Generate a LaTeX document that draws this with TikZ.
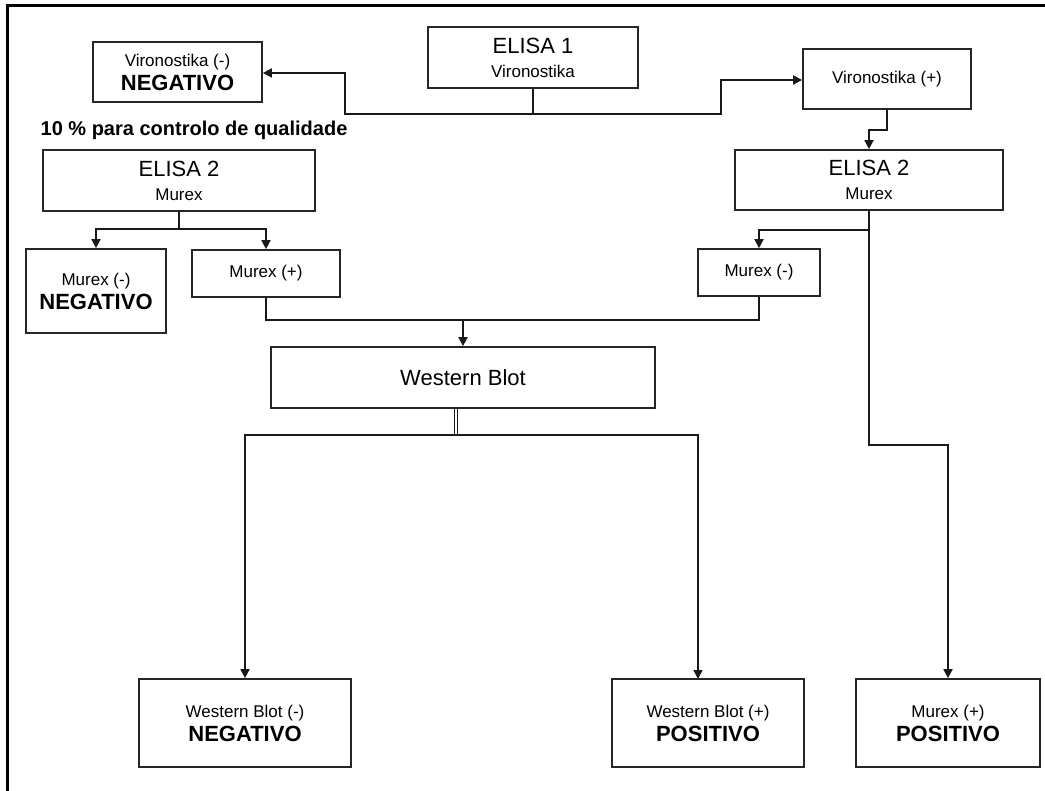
\documentclass[tikz,border=0pt]{standalone}
\usepackage{fontspec}
\setmainfont{Liberation Sans}
\usetikzlibrary{arrows.meta}
\tikzset{
  box/.style={draw=black!85, line width=1.7pt, rectangle, inner sep=0pt, align=center,
    font=\fontsize{17}{24}\selectfont},
  conn/.style={draw=black!90, line width=1.7pt},
  arr/.style={conn, -{Triangle[length=9pt,width=9pt]}},
}
\newcommand{\bigtxt}[1]{{\fontsize{22}{24}\selectfont #1}}
\newcommand{\bigbold}[1]{{\fontsize{22}{24}\selectfont\bfseries #1}}
\begin{document}
\begin{tikzpicture}[x=1pt,y=-1pt]
\useasboundingbox (0,0) rectangle (1045,791);
\draw[line width=3pt, black] (7,791) -- (7,6) -- (1045,6);

% nodes
\node[box, minimum width=169pt, minimum height=60pt] (vneg) at (177.5,72) {Vironostika (-)\\\bigbold{NEGATIVO}};
\node[box, minimum width=210pt, minimum height=61pt] (elisa1) at (533,57.5) {\bigtxt{ELISA 1}\\Vironostika};
\node[box, minimum width=168pt, minimum height=60pt] (vpos) at (887,79) {Vironostika (+)};
\node[font=\fontsize{20}{24}\selectfont\bfseries, inner sep=0pt] (qual) at (194,130) {10 \% para controlo de qualidade};
\node[box, minimum width=272pt, minimum height=61pt] (e2l) at (179,180.5) {\bigtxt{ELISA 2}\\Murex};
\node[box, minimum width=268pt, minimum height=60pt] (e2r) at (869,180) {\bigtxt{ELISA 2}\\Murex};
\node[box, minimum width=140pt, minimum height=84pt] (mnegl) at (96,291) {Murex (-)\\\bigbold{NEGATIVO}};
\node[box, minimum width=148pt, minimum height=47pt] (mposl) at (266,273.5) {Murex (+)};
\node[box, minimum width=122pt, minimum height=47pt] (mnegr) at (759,272.5) {Murex (-)};
\node[box, minimum width=384pt, minimum height=61pt, font=\fontsize{22}{24}\selectfont] (wb) at (463,377.5) {Western Blot};
\node[box, minimum width=212pt, minimum height=88pt] (wbneg) at (245,723) {Western Blot (-)\\\bigbold{NEGATIVO}};
\node[box, minimum width=192pt, minimum height=88pt] (wbpos) at (708,723) {Western Blot (+)\\\bigbold{POSITIVO}};
\node[box, minimum width=184pt, minimum height=88pt] (mposr) at (948,723) {Murex (+)\\\bigbold{POSITIVO}};

% helper coordinates
\coordinate (j1) at (533,114);
\coordinate (j2) at (869,230);
\coordinate (j3) at (179,229);
\coordinate (j4) at (463,320);
\coordinate (j5) at (456,435);
\coordinate (wbposin) at (698,679);

% connectors
\draw[conn] (elisa1.south) -- (j1);
\draw[arr] (j1) -| (345,73) -- (vneg.east |- 0,73);
\draw[arr] (j1) -| (721,80) -- (vpos.west |- 0,80);
\draw[arr] (vpos.south) -- (887,130) -| (e2r.north);
\draw[conn] (e2l.south) -- (j3);
\draw[arr] (j3) -| (mnegl.north);
\draw[arr] (j3) -| (mposl.north);
\draw[arr] (j2) -| (mnegr.north);
\draw[arr] (e2r.south) -- (869,445) -| (mposr.north);
\draw[conn] (mposl.south) |- (j4) -| (mnegr.south);
\draw[arr] (j4) -- (wb.north);
\draw[conn, double, double distance=2.5pt, line width=1.2pt] (wb.south -| j5) -- (j5);
\draw[arr] (j5) -| (wbneg.north);
\draw[arr] (j5) -| (wbposin);
\end{tikzpicture}
\end{document}
